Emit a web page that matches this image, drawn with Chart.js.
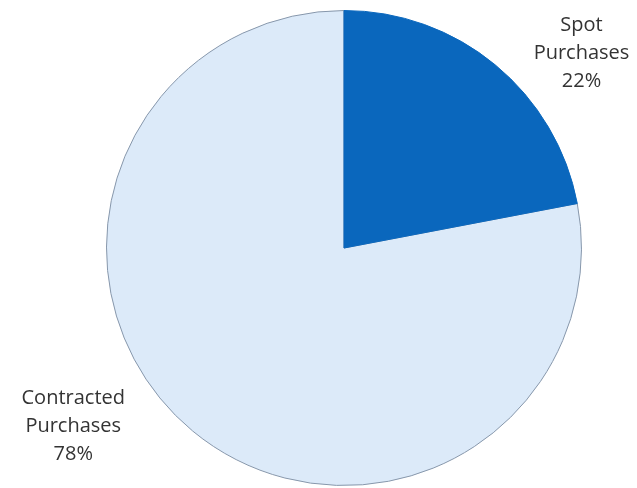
<!DOCTYPE html>
<html>
<head>
<meta charset="utf-8">
<script src="https://cdn.jsdelivr.net/npm/chart.js@4.4.0/dist/chart.umd.min.js"></script>
<style>
  html, body { margin: 0; padding: 0; background: #ffffff; }
  #wrap { width: 637px; height: 488px; }
</style>
</head>
<body>
<div id="wrap"><canvas id="grafico"></canvas></div>
<script>
// purchase mix, percent of total volume
const categorias = ['Contracted Purchases', 'Spot Purchases'];
const valores = [78, 22];
const rotulos = [['Contracted', 'Purchases', '78%'], ['Spot', 'Purchases', '22%']];
const cores = ['#dceaf9', '#0a67bd'];
const bordas = ['#8797ab', '#0a67bd'];

// where each text block sits, as multiples of the radius from the pie centre
const posRotulos = [{dx: -1.14, dy: 0.75}, {dx: 1.0, dy: -0.82}];

const rotulosPlugin = {
    id: 'rotulos',
    afterDatasetsDraw(chart) {
        const ctx = chart.ctx;
        const arcs = chart.getDatasetMeta(0).data;
        ctx.save();
        ctx.fillStyle = '#333333';
        ctx.font = '20px "Open Sans"';
        ctx.textAlign = 'center';
        ctx.textBaseline = 'middle';
        arcs.forEach(function(arc, i) {
            const r = arc.outerRadius;
            const cx = arc.x + posRotulos[i].dx * r;
            const cy = arc.y + posRotulos[i].dy * r;
            const linhas = rotulos[i];
            const alt = 28;
            linhas.forEach(function(t, k) {
                ctx.fillText(t, cx, cy + (k - (linhas.length - 1) / 2) * alt);
            });
        });
        ctx.restore();
    }
};

// spot slice starts at 12 o'clock, so contracted starts where spot ends
const rotacao = valores[1] / (valores[0] + valores[1]) * 360;

new Chart(document.getElementById('grafico'), {
    type: 'pie',
    data: {
        labels: categorias,
        datasets: [{
            data: valores,
            backgroundColor: cores,
            borderColor: bordas,
            borderWidth: 1
        }]
    },
    options: {
        responsive: true,
        maintainAspectRatio: false,
        animation: false,
        rotation: rotacao,
        layout: {
            padding: {left: 106, right: 55, top: 10, bottom: 2}
        },
        plugins: {
            legend: {display: false},
            tooltip: {enabled: false}
        }
    },
    plugins: [rotulosPlugin]
});
</script>
</body>
</html>
